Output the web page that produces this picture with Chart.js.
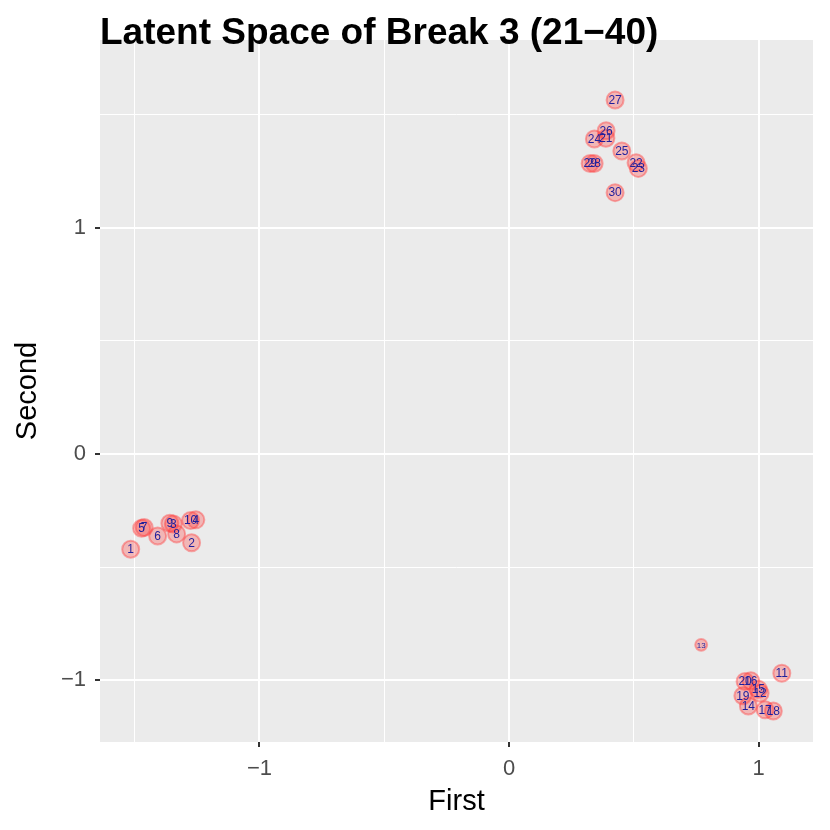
<!DOCTYPE html>
<html>
<head>
<meta charset="utf-8">
<script src="https://cdn.jsdelivr.net/npm/chart.js@4.4.1/dist/chart.umd.min.js"></script>
<style>
html,body{margin:0;padding:0;background:#fff;}
#wrap{width:830px;height:830px;}
</style>
</head>
<body>
<div id="wrap"><canvas id="c" width="830" height="830"></canvas></div>
<script>
// ---- data ----
const nodeIds = [1,2,3,4,5,6,7,8,9,10,11,12,13,14,15,16,17,18,19,20,21,22,23,24,25,26,27,28,29,30];
const firstVals = [-1.516,-1.272,-1.345,-1.255,-1.472,-1.408,-1.462,-1.332,-1.359,-1.276,
                   1.093,1.006,0.770,0.959,0.999,0.969,1.026,1.059,0.937,0.946,
                   0.388,0.509,0.518,0.342,0.452,0.389,0.425,0.341,0.325,0.425];
const secondVals = [-0.421,-0.392,-0.309,-0.291,-0.328,-0.362,-0.325,-0.353,-0.306,-0.294,
                    -0.968,-1.057,-0.843,-1.113,-1.039,-1.002,-1.130,-1.135,-1.068,-1.005,
                    1.394,1.286,1.261,1.391,1.338,1.427,1.563,1.283,1.283,1.154];
const nodeWeight = [1,1,1,1,1,1,1,1,1,1,
                    1,1,0.7,1,1,1,1,1,1,1,
                    1,1,1,1,1,1,1,1,1,1];
const xMajorTicks = [-1,0,1];
const xMinorTicks = [-1.5,-0.5,0.5];
const yMajorTicks = [-1,0,1];
const yMinorTicks = [-0.5,0.5,1.5];
const xRange = [-1.639,1.218];
const yRange = [-1.272,1.828];
const titleText = "Latent Space of Break 3 (21\u221240)";
const xTitle = "First";
const yTitle = "Second";

const FONT = '"Liberation Sans", Arial, Helvetica, sans-serif';
const points = nodeIds.map((id,i)=>({x:firstVals[i], y:secondVals[i], id:id, w:nodeWeight[i]}));
const fmt = v => (v<0 ? "\u2212"+Math.abs(v) : String(v));

const bgPlugin = {
  id:'panelBg',
  beforeDraw(chart){
    const {ctx, chartArea:a} = chart;
    ctx.save();
    ctx.fillStyle = '#EBEBEB';
    ctx.fillRect(a.left, a.top, a.right-a.left, a.bottom-a.top);
    ctx.restore();
  }
};
const labelPlugin = {
  id:'nodeLabels',
  afterDatasetsDraw(chart){
    const ctx = chart.ctx;
    const meta = chart.getDatasetMeta(0);
    ctx.save();
    ctx.fillStyle = '#1f1f9c';
    ctx.textAlign = 'center';
    ctx.textBaseline = 'middle';
    meta.data.forEach((el,i)=>{
      const p = points[i];
      ctx.font = (p.w<1? 8 : 12) + 'px ' + FONT;
      ctx.fillText(String(p.id), el.x, el.y+0.5);
    });
    ctx.restore();
  }
};
const titlePlugin = {
  id:'leftTitle',
  afterDraw(chart){
    const ctx = chart.ctx;
    ctx.save();
    ctx.fillStyle = '#000';
    ctx.font = 'bold 37px ' + FONT;
    ctx.textAlign = 'left';
    ctx.textBaseline = 'alphabetic';
    ctx.fillText(titleText, chart.chartArea.left, 44);
    ctx.restore();
  }
};

function makeTicks(major, minor){
  return major.concat(minor).sort((a,b)=>a-b).map(v=>({value:v, major:major.includes(v)}));
}
const isMajor = (ctx, major) => ctx.tick && major.includes(ctx.tick.value);

new Chart(document.getElementById('c'), {
  type:'scatter',
  data:{datasets:[{
    data:points,
    backgroundColor:'rgba(255,60,60,0.3)',
    borderColor:'rgba(255,60,60,0.42)',
    borderWidth:2,
    pointRadius: c => (c.raw ? 8.5*c.raw.w : 8.5),
    pointHoverRadius: c => (c.raw ? 8.5*c.raw.w : 8.5)
  }]},
  options:{
    responsive:false,
    animation:false,
    events:[],
    layout:{padding:{top:40,right:17,bottom:0,left:0}},
    plugins:{legend:{display:false}, tooltip:{enabled:false}, title:{display:false}},
    scales:{
      x:{
        type:'linear', min:xRange[0], max:xRange[1],
        afterBuildTicks: s => { s.ticks = makeTicks(xMajorTicks, xMinorTicks); },
        afterFit: s => { s.height = 88; },
        border:{display:false},
        grid:{
          color: c => '#FFFFFF',
          lineWidth: c => isMajor(c, xMajorTicks) ? 2 : 1,
          tickColor: c => isMajor(c, xMajorTicks) ? '#333333' : 'rgba(0,0,0,0)',
          tickLength:5, tickWidth:2, drawTicks:true
        },
        ticks:{
          autoSkip:false, maxRotation:0, padding:9,
          color:'#4D4D4D',
          font:{family:FONT, size:22},
          callback: v => xMajorTicks.includes(v) ? fmt(v) : ''
        },
        title:{display:true, text:xTitle, color:'#000',
          font:{family:FONT, size:29},
          padding:{top:4,bottom:11}}
      },
      y:{
        type:'linear', min:yRange[0], max:yRange[1],
        afterBuildTicks: s => { s.ticks = makeTicks(yMajorTicks, yMinorTicks); },
        afterFit: s => { s.width = 100; },
        border:{display:false},
        grid:{
          color: c => '#FFFFFF',
          lineWidth: c => isMajor(c, yMajorTicks) ? 2 : 1,
          tickColor: c => isMajor(c, yMajorTicks) ? '#333333' : 'rgba(0,0,0,0)',
          tickLength:5, tickWidth:2, drawTicks:true
        },
        ticks:{
          autoSkip:false, padding:9,
          color:'#4D4D4D',
          font:{family:FONT, size:22},
          callback: v => yMajorTicks.includes(v) ? fmt(v) : ''
        },
        title:{display:true, text:yTitle, color:'#000',
          font:{family:FONT, size:29},
          padding:{top:11,bottom:4}}
      }
    }
  },
  plugins:[bgPlugin, labelPlugin, titlePlugin]
});
</script>
</body>
</html>
